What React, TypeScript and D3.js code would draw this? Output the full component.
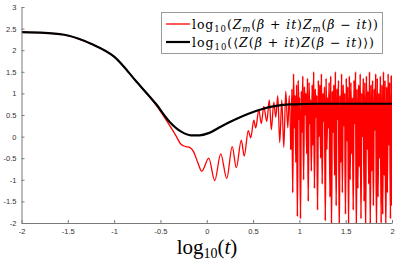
// @ts-nocheck
import { useEffect, useRef } from "react";
import * as d3 from "d3";

// smooth black curve: log10 <Z(b+it)Z(b-it)>
const blackLogT = [-2, -1.75, -1.5, -1.25, -1.0, -0.75, -0.55, -0.4, -0.28, -0.17, -0.08, 0.02, 0.15, 0.3, 0.45, 0.6, 0.75, 0.9, 1.05, 1.2, 1.5, 2.0];
const blackVals = [2.42, 2.4, 2.34, 2.15, 1.85, 1.25, 0.76, 0.34, 0.12, 0.03, 0.03, 0.08, 0.23, 0.39, 0.53, 0.64, 0.71, 0.745, 0.755, 0.76, 0.76, 0.76];

// red curve, slow part (local extrema)
const redLogT = [-2, -1.75, -1.5, -1.25, -1.0, -0.75, -0.55, -0.443, -0.389, -0.335, -0.281, -0.227, -0.184, -0.14, -0.097, -0.054, 0.022, 0.086, 0.151, 0.216, 0.275, 0.319, 0.373, 0.405, 0.448, 0.475, 0.508, 0.529, 0.562, 0.589, 0.616, 0.648, 0.675, 0.697, 0.724, 0.745, 0.767, 0.788, 0.81, 0.832, 0.853, 0.875, 0.891, 0.907];
const redVals = [2.42, 2.4, 2.34, 2.15, 1.85, 1.25, 0.74, 0.4, 0.22, 0.03, -0.17, -0.23, -0.25, -0.36, -0.6, -0.8, -0.5, -1.02, -0.4, -0.97, -0.23, -0.72, -0.08, -0.45, 0.14, -0.03, 0.38, 0.2, 0.62, 0.3, 0.7, 0.35, 0.85, 0.16, 0.8, 0.45, 0.95, -0.14, 0.85, -0.25, 1.05, 0.2, 0.95, -0.3];

// red curve, dense part (log10 t from 0.92 to 2): alternating peaks and troughs
const redPeaks = [
  1.1, 1.45, 0.95, 1.2, 1.3, 0.9, 1.05, 1.4, 1.15, 1.0,
  1.35, 1.25, 0.85, 1.2, 1.5, 1.1, 0.95, 1.3, 1.2, 1.45,
  1.0, 1.15, 1.35, 0.9, 1.25, 1.4, 1.05, 1.2, 1.5, 1.1,
  1.3, 0.95, 1.45, 1.2, 1.0, 1.35, 1.15, 1.4, 1.25, 0.9,
  1.3, 1.5, 1.1, 1.2, 1.45, 1.0, 1.35, 1.25, 1.4, 1.05,
  1.5, 1.2, 1.3, 1.1, 1.45, 1.35, 1.0, 1.4, 1.2, 1.5,
  1.3, 1.15, 1.45, 1.25, 1.4,
];
const redTroughs = [
  -1.3, 0.2, -0.6, -1.85, 0.4, -1.9, 0.1, -1.0, 0.5, -0.4,
  -1.5, 0.3, -0.8, -0.2, -1.2, 0.45, -1.7, 0.0, -0.5, -1.1,
  0.35, -1.95, -0.3, 0.2, -1.4, -2.1, 0.1, -0.9, -1.6, 0.4,
  -2.2, -0.6, -1.3, 0.25, -1.8, -0.1, -2.1, -1.0, -0.4, -1.7,
  0.3, -2.2, -1.2, -0.7, -1.9, 0.0, -1.5, -2.2, -0.3, -1.1,
  -2.1, -0.8, -1.6, 0.15, -2.2, -1.4, -0.5, -2.0, -1.8, -0.9,
  -2.2, -1.3, -0.2, -1.9, -1.6,
];

const xTicks = [-2, -1.5, -1, -0.5, 0, 0.5, 1, 1.5, 2];
const yTicks = [-2, -1.5, -1, -0.5, 0, 0.5, 1, 1.5, 2, 2.5, 3];

const W = 399;
const H = 264;

export default function App() {
  const ref = useRef(null);

  useEffect(() => {
    const svg = d3.select(ref.current);
    svg.selectAll("*").remove();

    const x = d3.scaleLinear().domain([-2, 2]).range([21.5, 392]);
    const y = d3.scaleLinear().domain([-2, 3]).range([223, 7]);

    svg
      .append("defs")
      .append("clipPath")
      .attr("id", "plot-clip")
      .append("rect")
      .attr("x", 21.5)
      .attr("y", 7)
      .attr("width", 392 - 21.5)
      .attr("height", 223 - 7);

    const slow = redLogT.map((t, i) => [t, redVals[i]]);
    const dense = redPeaks.flatMap((p, i) => [p, redTroughs[i]]);
    const step = (2 - 0.92) / (dense.length - 1);
    const fast = [slow[slow.length - 1]].concat(dense.map((v, i) => [0.92 + i * step, v]));
    const black = blackLogT.map((t, i) => [t, blackVals[i]]);

    const line = d3
      .line()
      .x((d) => x(d[0]))
      .y((d) => y(d[1]))
      .curve(d3.curveMonotoneX);

    const plot = svg.append("g").attr("clip-path", "url(#plot-clip)");
    plot
      .append("path")
      .datum(slow)
      .attr("fill", "none")
      .attr("stroke", "#ff0000")
      .attr("stroke-width", 1.3)
      .attr("stroke-linejoin", "round")
      .attr("d", line);
    plot
      .append("path")
      .datum(fast)
      .attr("fill", "none")
      .attr("stroke", "#ff0000")
      .attr("stroke-width", 1.6)
      .attr("stroke-linejoin", "round")
      .attr("d", line);
    plot
      .append("path")
      .datum(black)
      .attr("fill", "none")
      .attr("stroke", "#000")
      .attr("stroke-width", 2.2)
      .attr("d", line);

    const styleAxis = (g) => {
      g.select(".domain").attr("stroke", "#7a7a7a");
      g.selectAll(".tick line").attr("stroke", "#7a7a7a");
      g.selectAll(".tick text")
        .attr("fill", "#333")
        .attr("font-family", "Liberation Sans, Arial, sans-serif")
        .attr("font-size", 7.5);
    };

    svg
      .append("g")
      .attr("transform", `translate(0,${223})`)
      .call(
        d3
          .axisBottom(x)
          .tickValues(xTicks)
          .tickSizeInner(-3)
          .tickSizeOuter(0)
          .tickPadding(6)
          .tickFormat((d) => String(d))
      )
      .call(styleAxis);

    svg
      .append("g")
      .attr("transform", `translate(${21.5},0)`)
      .call(
        d3
          .axisLeft(y)
          .tickValues(yTicks)
          .tickSizeInner(-3)
          .tickSizeOuter(0)
          .tickPadding(5)
          .tickFormat((d) => String(d))
      )
      .call(styleAxis);

    // x label
    const xl = svg
      .append("text")
      .attr("x", 207)
      .attr("y", 254)
      .attr("text-anchor", "middle")
      .attr("font-family", "Liberation Serif, Times New Roman, serif")
      .attr("font-size", 21)
      .attr("fill", "#000");
    xl.append("tspan").text("log");
    xl.append("tspan").attr("font-size", 14).attr("dy", 4).text("10");
    xl.append("tspan").attr("dy", -4).text("(");
    xl.append("tspan").attr("font-style", "italic").text("t");
    xl.append("tspan").text(")");

    // legend
    const lg = svg.append("g");
    lg.append("rect")
      .attr("x", 161.5)
      .attr("y", 12.5)
      .attr("width", 221)
      .attr("height", 41)
      .attr("fill", "#fff")
      .attr("stroke", "#9a9a9a")
      .attr("stroke-width", 1);

    const rows = [
      { color: "#ff0000", w: 1.3, yy: 24, len: 186, parts: [["log", ""], ["10", "sub"], ["(", ""], ["Z", "i"], ["m", "subi"], ["(", ""], ["β", "i"], [" + ", ""], ["it", "i"], [")", ""], ["Z", "i"], ["m", "subi"], ["(", ""], ["β", "i"], [" − ", ""], ["it", "i"], ["))", ""]] },
      { color: "#000", w: 2.2, yy: 42, len: 182, parts: [["log", ""], ["10", "sub"], ["(⟨", ""], ["Z", "i"], ["(", ""], ["β", "i"], [" + ", ""], ["it", "i"], [")", ""], ["Z", "i"], ["(", ""], ["β", "i"], [" − ", ""], ["it", "i"], [")⟩)", ""]] },
    ];

    rows.forEach((r) => {
      lg.append("line")
        .attr("x1", 166)
        .attr("x2", 190)
        .attr("y1", r.yy)
        .attr("y2", r.yy)
        .attr("stroke", r.color)
        .attr("stroke-width", r.w);
      const t = lg
        .append("text")
        .attr("x", 192)
        .attr("y", r.yy + 4.5)
        .attr("font-family", "DejaVu Serif, serif")
        .attr("font-size", 12.5)
        .attr("textLength", r.len)
        .attr("lengthAdjust", "spacing")
        .attr("fill", "#000");
      let shifted = false;
      r.parts.forEach(([s, kind]) => {
        const sp = t.append("tspan").text(s);
        const isSub = kind === "sub" || kind === "subi";
        if (kind === "i" || kind === "subi") sp.attr("font-style", "italic");
        if (isSub) {
          sp.attr("font-size", 8.5);
          if (!shifted) {
            sp.attr("dy", 3);
            shifted = true;
          }
        } else if (shifted) {
          sp.attr("dy", -3);
          shifted = false;
        }
      });
    });
  }, []);

  return (
    <svg
      ref={ref}
      width={W}
      height={H}
      style={{ position: "absolute", left: 0, top: 0, background: "#fff" }}
    />
  );
}
